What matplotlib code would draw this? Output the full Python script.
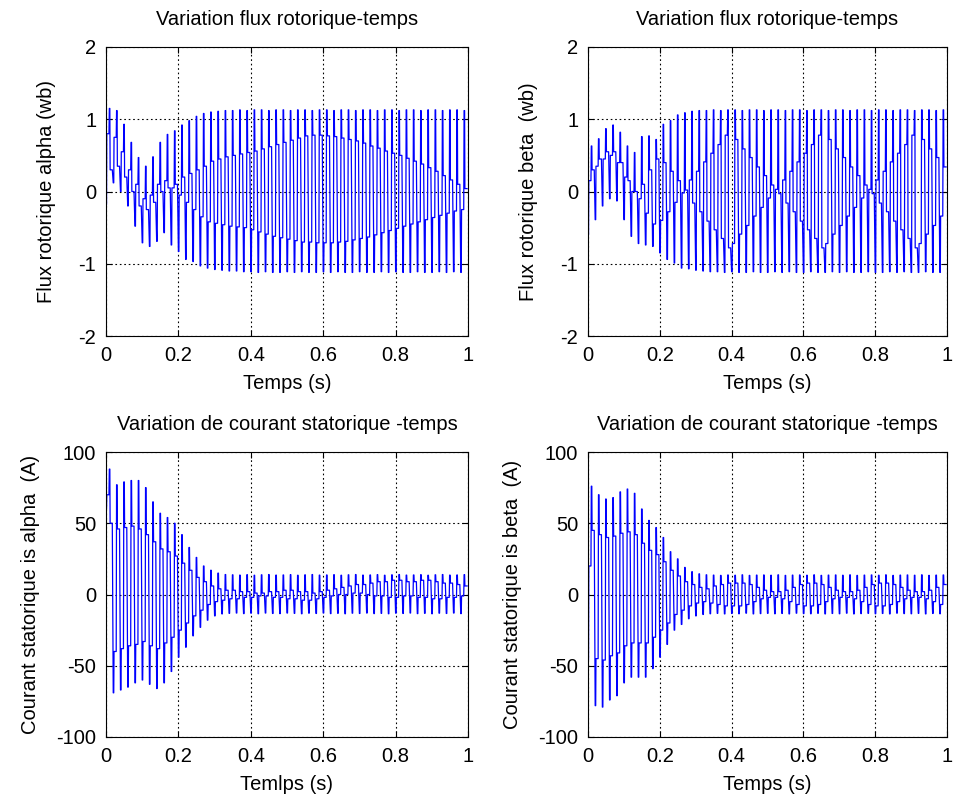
import matplotlib
matplotlib.use("Agg")
import matplotlib.pyplot as plt
import numpy as np

plt.rcParams["font.family"] = ["Liberation Sans", "DejaVu Sans"]
plt.rcParams["axes.unicode_minus"] = False

# period of one cycle (s)
period = 0.02

# --- rotor flux alpha (wb): per-cycle low, rising step, high, falling step ---
lo_alpha = [-0.18, 0.12, 0.00, -0.20, -0.48, -0.71, -0.76, -0.69, -0.57, -0.74,
            -0.83, -0.94, -0.97, -1.03, -1.06, -1.08, -1.09, -1.10, -1.10, -1.11,
            -1.11, -1.12, -1.11, -1.12, -1.12, -1.11, -1.12, -1.11, -1.12, -1.12,
            -1.11, -1.12, -1.11, -1.12, -1.12, -1.11, -1.12, -1.12, -1.11, -1.12,
            -1.11, -1.12, -1.12, -1.11, -1.12, -1.12, -1.11, -1.12, -1.11, -1.12]
up_alpha = [0.80, 0.75, 0.55, 0.30, 0.10, -0.10, -0.05, 0.10, 0.15, 0.05,
            -0.05, -0.15, -0.25, -0.35, -0.42, -0.44, -0.46, -0.48, -0.49, -0.50,
            -0.53, -0.56, -0.59, -0.62, -0.64, -0.66, -0.68, -0.70, -0.70, -0.71,
            -0.71, -0.71, -0.70, -0.69, -0.67, -0.65, -0.63, -0.60, -0.57, -0.54,
            -0.51, -0.48, -0.45, -0.42, -0.39, -0.36, -0.33, -0.30, -0.27, -0.25]
hi_alpha = [1.15, 1.12, 0.93, 0.68, 0.47, 0.35, 0.48, 0.68, 0.79, 0.84,
            0.92, 0.98, 1.04, 1.08, 1.10, 1.11, 1.12, 1.12, 1.13, 1.12,
            1.13, 1.13, 1.12, 1.13, 1.13, 1.12, 1.13, 1.13, 1.12, 1.13,
            1.13, 1.12, 1.13, 1.13, 1.12, 1.13, 1.13, 1.12, 1.13, 1.13,
            1.12, 1.13, 1.13, 1.12, 1.13, 1.13, 1.12, 1.13, 1.13, 1.12]
dn_alpha = [0.30, 0.35, 0.20, 0.00, -0.20, -0.25, -0.15, 0.00, 0.05, 0.10,
            0.20, 0.25, 0.30, 0.35, 0.42, 0.45, 0.48, 0.50, 0.52, 0.54,
            0.56, 0.59, 0.62, 0.65, 0.68, 0.71, 0.74, 0.77, 0.78, 0.78,
            0.77, 0.76, 0.74, 0.72, 0.70, 0.67, 0.63, 0.60, 0.56, 0.53,
            0.50, 0.46, 0.42, 0.38, 0.33, 0.28, 0.22, 0.16, 0.10, 0.04]

# --- rotor flux beta (wb) ---
lo_beta = [-0.60, -0.39, -0.20, -0.10, -0.13, -0.39, -0.62, -0.72, -0.74, -0.76,
           -0.85, -0.94, -0.99, -1.06, -1.07, -1.09, -1.10, -1.11, -1.11, -1.12,
           -1.11, -1.12, -1.12, -1.11, -1.12, -1.12, -1.11, -1.12, -1.11, -1.12,
           -1.12, -1.11, -1.12, -1.12, -1.11, -1.12, -1.11, -1.12, -1.12, -1.11,
           -1.12, -1.12, -1.11, -1.12, -1.11, -1.12, -1.12, -1.11, -1.12, -1.12]
up_beta = [0.15, 0.35, 0.45, 0.50, 0.40, 0.20, 0.00, -0.10, -0.30, -0.45,
           -0.40, -0.28, -0.15, -0.02, 0.16, 0.28, 0.41, 0.53, 0.65, 0.78,
           -0.72, -0.59, -0.47, -0.34, -0.22, -0.09, 0.03, 0.16, 0.28, 0.41,
           0.53, 0.65, 0.78, -0.72, -0.59, -0.47, -0.34, -0.22, -0.09, 0.03,
           0.16, 0.28, 0.41, 0.53, 0.65, 0.78, -0.72, -0.59, -0.47, -0.34]
hi_beta = [0.63, 0.73, 0.87, 0.92, 0.82, 0.63, 0.54, 0.76, 0.77, 0.72,
           0.93, 0.98, 1.06, 1.09, 1.11, 1.12, 1.12, 1.13, 1.12, 1.13,
           1.13, 1.12, 1.13, 1.13, 1.12, 1.13, 1.13, 1.12, 1.13, 1.13,
           1.12, 1.13, 1.13, 1.12, 1.13, 1.13, 1.12, 1.13, 1.13, 1.12,
           1.13, 1.13, 1.12, 1.13, 1.13, 1.12, 1.13, 1.13, 1.12, 1.13]
dn_beta = [0.30, 0.45, 0.55, 0.55, 0.40, 0.15, 0.00, 0.10, 0.30, 0.45,
           0.40, 0.28, 0.15, 0.02, -0.16, -0.28, -0.41, -0.53, -0.65, -0.78,
           0.72, 0.59, 0.47, 0.34, 0.22, 0.09, -0.03, -0.16, -0.28, -0.41,
           -0.53, -0.65, -0.78, 0.72, 0.59, 0.47, 0.34, 0.22, 0.09, -0.03,
           -0.16, -0.28, -0.41, -0.53, -0.65, -0.78, 0.72, 0.59, 0.47, 0.34]

# --- stator current alpha (A) ---
lo_ia = [60, -69, -67, -65, -62, -60, -63, -66, -62, -54,
         -44, -37, -29, -23, -18, -15, -13.6, -13.2, -13.0, -13.4,
         -13.1, -13.5, -13.0, -13.3, -13.4, -13.0, -13.2, -13.5, -13.1, -13.3,
         -13.0, -13.4, -13.2, -13.5, -13.1, -13.3, -13.0, -13.4, -13.2, -13.5,
         -13.1, -13.3, -13.0, -13.4, -13.2, -13.5, -13.1, -13.3, -13.0, -13.4]
up_ia = [70, -40, -38, -36, -35, -33, -36, -38, -34, -30,
         -25, -20, -15, -11, -7, -5, -4, -3, -3, -2,
         -2, -1, -1, -2, -2, -3, -3, -4, -4, -3,
         -2, -1, 0, 0, 1, 1, 0, -1, -1, -2,
         -2, -1, -1, -2, -2, -3, -3, -2, -2, -1]
hi_ia = [88, 77, 79, 80, 80, 75, 65, 57, 54, 50,
         42, 33, 26, 20, 17, 15, 14, 13.8, 13.6, 13.9,
         13.5, 13.8, 14.0, 13.6, 13.7, 13.9, 13.5, 13.8, 14.0, 13.6,
         13.7, 13.9, 13.5, 13.8, 14.0, 13.6, 13.7, 13.9, 13.5, 13.8,
         14.0, 13.6, 13.7, 13.9, 13.5, 13.8, 14.0, 13.6, 13.7, 13.9]
dn_ia = [50, 46, 47, 48, 46, 42, 37, 32, 30, 27,
         22, 17, 12, 9, 6, 4, 3, 3, 2, 2,
         1, 1, 2, 2, 3, 3, 2, 2, 1, 2,
         3, 4, 5, 6, 7, 7, 8, 9, 9, 10,
         10, 9, 9, 10, 10, 9, 8, 8, 7, 6]

# --- stator current beta (A) ---
lo_ib = [-46, -78, -79, -74, -71, -62, -58, -58, -58, -52,
         -44, -35, -25, -21, -17, -15, -14, -13.5, -13.2, -13.6,
         -13.3, -13.5, -13.1, -13.6, -13.4, -13.2, -13.5, -13.3, -13.6, -13.1,
         -13.4, -13.5, -13.2, -13.6, -13.3, -13.5, -13.1, -13.6, -13.4, -13.2,
         -13.5, -13.3, -13.6, -13.1, -13.4, -13.5, -13.2, -13.6, -13.3, -13.5]
up_ib = [20, -45, -46, -43, -41, -36, -34, -34, -34, -30,
         -25, -20, -14, -11, -8, -6, -5, -6, -7, -8,
         -8, -8, -7, -5, -3, -2, -2, -3, -5, -7,
         -8, -8, -7, -5, -3, -2, -2, -3, -5, -7,
         -8, -8, -7, -5, -3, -2, -2, -3, -5, -7]
hi_ib = [76, 70, 67, 68, 72, 74, 71, 60, 52, 47,
         40, 30, 25, 19, 16, 14.5, 13.8, 13.6, 13.4, 13.7,
         13.5, 13.8, 13.4, 13.6, 13.7, 13.5, 13.8, 13.4, 13.6, 13.7,
         13.5, 13.8, 13.4, 13.6, 13.7, 13.5, 13.8, 13.4, 13.6, 13.7,
         13.5, 13.8, 13.4, 13.6, 13.7, 13.5, 13.8, 13.4, 13.6, 13.7]
dn_ib = [45, 42, 40, 41, 43, 44, 42, 36, 31, 28,
         23, 17, 13, 9, 7, 5, 4, 6, 7, 8,
         8, 8, 7, 5, 3, 2, 2, 3, 5, 7,
         8, 8, 7, 5, 3, 2, 2, 3, 5, 7,
         8, 8, 7, 5, 3, 2, 2, 3, 5, 7]

x_ticks = [0, 0.2, 0.4, 0.6, 0.8, 1]
x_ticklabels = ["0", "0.2", "0.4", "0.6", "0.8", "1"]
flux_ticks = [-2, -1, 0, 1, 2]
current_ticks = [-100, -50, 0, 50, 100]

titles = ["Variation flux rotorique-temps", "Variation flux rotorique-temps",
          "Variation de courant statorique -temps", "Variation de courant statorique -temps"]
ylabels = ["Flux rotorique alpha (wb)", "Flux rotorique beta  (wb)",
           "Courant statorique is alpha  (A)", "Courant statorique is beta  (A)"]
xlabels = ["Temps (s)", "Temps (s)", "Temlps (s)", "Temps (s)"]


def cycle_trace(lo, up, hi, dn):
    # each cycle: low (short hold), rising step, high (short hold), falling step
    frac = [0.0, 0.07, 0.11, 0.41, 0.46, 0.53, 0.57, 0.87]
    t, y = [], []
    for k in range(len(lo)):
        vals = (lo[k], lo[k], up[k], up[k], hi[k], hi[k], dn[k], dn[k])
        for f, v in zip(frac, vals):
            t.append(k * period + f * period)
            y.append(v)
    return np.array(t), np.array(y)


fig = plt.figure(figsize=(9.66, 8.02), dpi=100)
W, H = 966, 802
boxes = [(106, 47, 468, 336), (588, 47, 947, 336),
         (106, 452, 468, 737), (588, 452, 947, 737)]
series = [(lo_alpha, up_alpha, hi_alpha, dn_alpha),
          (lo_beta, up_beta, hi_beta, dn_beta),
          (lo_ia, up_ia, hi_ia, dn_ia),
          (lo_ib, up_ib, hi_ib, dn_ib)]
ylabel_pads = [16, 16, 12, 12]

for i in range(4):
    x0, y0, x1, y1 = boxes[i]
    ax = fig.add_axes([x0 / W, 1 - y1 / H, (x1 - x0) / W, (y1 - y0) / H])
    t, y = cycle_trace(*series[i])
    ax.plot(t, y, color="#0000ff", lw=0.9)
    ax.set_xlim(0, 1)
    ax.set_xticks(x_ticks)
    ax.set_xticklabels(x_ticklabels)
    if i < 2:
        ax.set_ylim(-2, 2)
        ax.set_yticks(flux_ticks)
    else:
        ax.set_ylim(-100, 100)
        ax.set_yticks(current_ticks)
    ax.grid(True, color="black", linestyle=(0, (1.5, 2.5)), linewidth=0.8)
    ax.tick_params(direction="in", top=True, right=True, length=4,
                   labelsize=14.5, pad=7)
    ax.set_title(titles[i], fontsize=14.5, pad=16)
    ax.set_xlabel(xlabels[i], fontsize=14.5, labelpad=7)
    ax.set_ylabel(ylabels[i], fontsize=14.5, labelpad=ylabel_pads[i])
    for s in ax.spines.values():
        s.set_linewidth(0.8)

fig.savefig("out.png", dpi=100)
